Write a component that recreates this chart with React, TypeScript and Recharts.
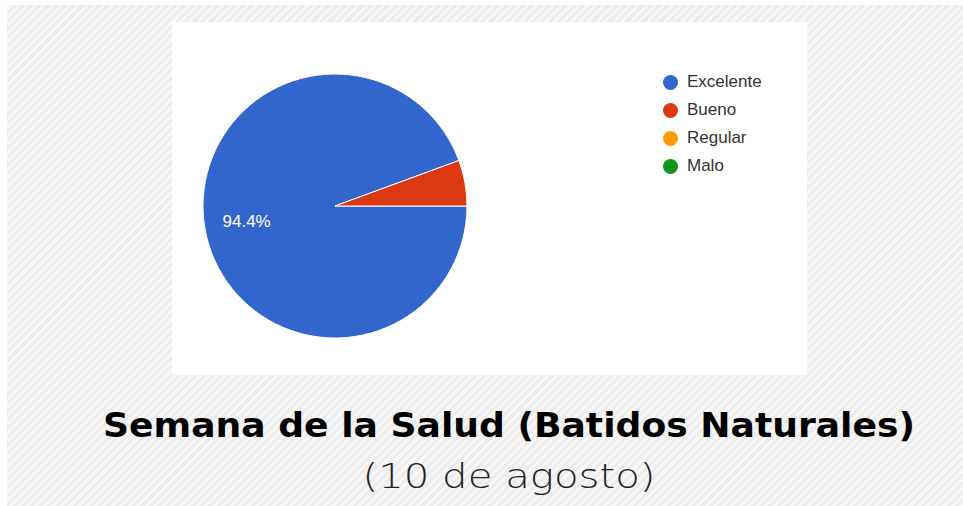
import { PieChart, Pie, Cell, Legend } from "recharts"

const categories = ["Excelente", "Bueno", "Regular", "Malo"]
const values = [94.4, 5.6, 0, 0]
const COLORS = ["#3366cc", "#dc3912", "#ff9900", "#109618"]

const data = categories.map((name, i) => ({ name, value: values[i] }))

const RAD = Math.PI / 180

function renderLabel(p: any) {
  if (p.percent < 0.1) return null
  const r = p.outerRadius * 0.68
  const x = p.cx + r * Math.cos(-p.midAngle * RAD)
  const y = p.cy + r * Math.sin(-p.midAngle * RAD)
  return (
    <text
      x={x}
      y={y}
      fill="#ffffff"
      textAnchor="middle"
      dominantBaseline="central"
      fontSize={17}
      fontFamily="Arial, 'Liberation Sans', sans-serif"
    >
      {(p.percent * 100).toFixed(1) + "%"}
    </text>
  )
}

function LegendList() {
  return (
    <div>
      {data.map((d, i) => (
        <div
          key={d.name}
          style={{ display: "flex", alignItems: "center", height: 28 }}
        >
          <span
            style={{
              width: 15,
              height: 15,
              borderRadius: "50%",
              background: COLORS[i],
              marginRight: 9,
            }}
          />
          <span
            style={{
              fontFamily: "Arial, 'Liberation Sans', sans-serif",
              fontSize: 17,
              color: "#333",
            }}
          >
            {d.name}
          </span>
        </div>
      ))}
    </div>
  )
}

export default function App() {
  return (
    <div
      style={{
        position: "fixed",
        left: 0,
        top: 0,
        width: 963,
        height: 506,
        background: "#fff",
      }}
    >
      <div
        style={{
          position: "absolute",
          left: 7,
          top: 5,
          right: 0,
          bottom: 0,
          background:
            "repeating-linear-gradient(-45deg, #f7f7f7 0px, #f7f7f7 3px, #ececec 3px, #ececec 6px)",
        }}
      />
      <div
        style={{
          position: "absolute",
          left: 172,
          top: 22,
          width: 635,
          height: 353,
          background: "#fff",
        }}
      >
        <PieChart width={635} height={353}>
          <Pie
            data={data}
            dataKey="value"
            nameKey="name"
            cx={158}
            cy={179}
            outerRadius={132}
            startAngle={0}
            endAngle={-360}
            stroke="#ffffff"
            strokeWidth={1}
            label={renderLabel}
            labelLine={false}
            isAnimationActive={false}
          >
            {data.map((d, i) => (
              <Cell key={d.name} fill={COLORS[i]} />
            ))}
          </Pie>
          <Legend
            layout="vertical"
            align="right"
            verticalAlign="top"
            content={() => <LegendList />}
            wrapperStyle={{ left: 491, top: 46, width: 140 }}
          />
        </PieChart>
      </div>
      <svg
        width={963}
        height={130}
        style={{ position: "absolute", left: 0, top: 380 }}
      >
        <text
          x={509}
          y={57}
          textAnchor="middle"
          fontFamily="'DejaVu Sans', sans-serif"
          fontWeight="bold"
          fontSize={33}
          textLength={812}
          lengthAdjust="spacingAndGlyphs"
          fill="#000"
        >
          Semana de la Salud (Batidos Naturales)
        </text>
        <text
          x={509}
          y={108}
          textAnchor="middle"
          fontFamily="'DejaVu Sans', sans-serif"
          fontWeight="200"
          fontSize={34}
          textLength={293}
          lengthAdjust="spacingAndGlyphs"
          fill="#222"
        >
          (10 de agosto)
        </text>
      </svg>
    </div>
  )
}
